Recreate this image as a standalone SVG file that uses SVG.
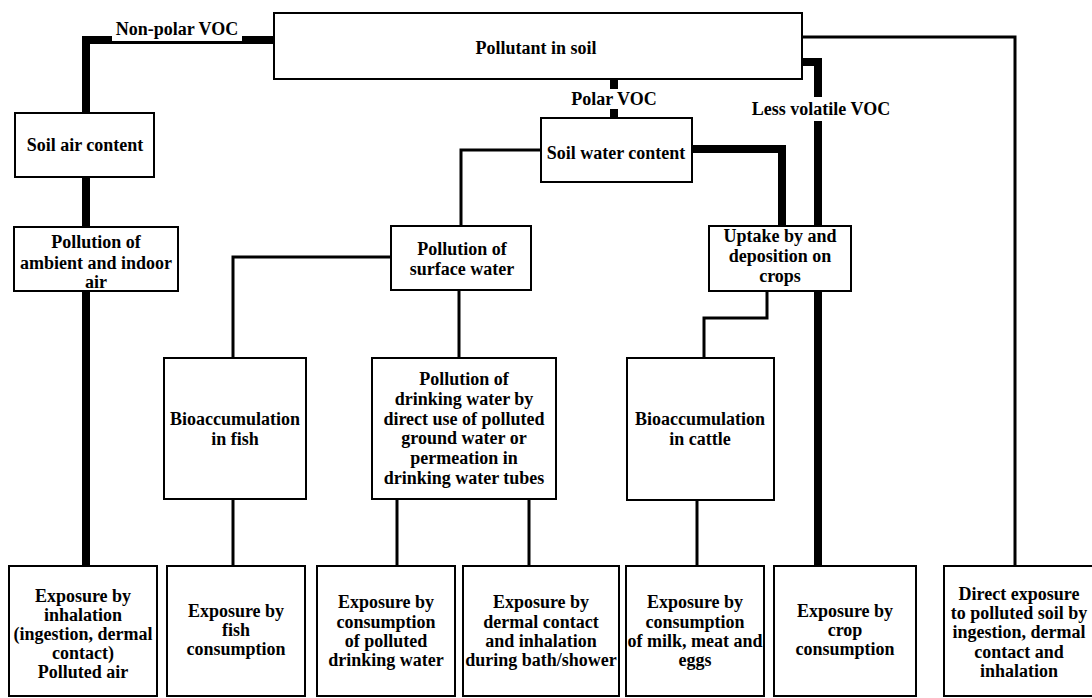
<svg xmlns="http://www.w3.org/2000/svg" width="1092" height="698" viewBox="0 0 1092 698">
<style>
  .box { fill: #ffffff; stroke: #000000; stroke-width: 2; }
  .thick { fill: none; stroke: #000000; stroke-width: 8; stroke-linejoin: miter; }
  .thin { fill: none; stroke: #000000; stroke-width: 3; stroke-linejoin: miter; }
  text { font-family: "Liberation Serif", "Times New Roman", serif; font-size: 18px; font-weight: bold; fill: #000000; text-anchor: middle; }
</style>
<rect x="0" y="0" width="1092" height="698" fill="#ffffff"/>
<g id="connectors">
  <path class="thick" d="M274,40 H86 V113"/>
  <path class="thick" d="M86,177 V227"/>
  <path class="thick" d="M86,291 V566"/>
  <rect x="112" y="22" width="130" height="19" fill="#ffffff"/>
  <path class="thick" d="M614,79 V89"/>
  <path class="thick" d="M614,109 V118"/>
  <path class="thick" d="M802,62 H818 V97"/>
  <path class="thick" d="M818,121 V566"/>
  <path class="thick" d="M692,149 H782 V226"/>
  <path class="thin" d="M802,37 H1015 V566"/>
  <path class="thin" d="M541,150 H461 V226"/>
  <path class="thin" d="M391,257 H233 V358"/>
  <path class="thin" d="M233,499 V566"/>
  <path class="thin" d="M459,290 V358"/>
  <path class="thin" d="M397,499 V566"/>
  <path class="thin" d="M529,499 V566"/>
  <path class="thin" d="M767,291 V318 H704 V358"/>
  <path class="thin" d="M697,500 V566"/>
  <text x="177" y="35">Non-polar VOC</text>
  <text x="614" y="105">Polar VOC</text>
  <text x="821" y="115">Less volatile VOC</text>
</g>
<g id="pollutant-in-soil">
  <rect class="box" x="274" y="13" width="528" height="66"/>
  <text x="536" y="54">Pollutant in soil</text>
</g>
<g id="soil-air-content">
  <rect class="box" x="15" y="113" width="139" height="64"/>
  <text x="85" y="151">Soil air content</text>
</g>
<g id="soil-water-content">
  <rect class="box" x="541" y="118" width="151" height="64"/>
  <text x="616" y="159">Soil water content</text>
</g>
<g id="pollution-air">
  <rect class="box" x="14" y="227" width="164" height="64"/>
  <text x="96" y="248">Pollution of</text>
  <text x="96" y="269">ambient and indoor</text>
  <text x="96" y="288">air</text>
</g>
<g id="pollution-surface-water">
  <rect class="box" x="391" y="226" width="140" height="64"/>
  <text x="462" y="255">Pollution of</text>
  <text x="462" y="275">surface water</text>
</g>
<g id="uptake-crops">
  <rect class="box" x="709" y="226" width="142" height="65"/>
  <text x="780" y="242">Uptake by and</text>
  <text x="780" y="262">deposition on</text>
  <text x="780" y="282">crops</text>
</g>
<g id="bioaccumulation-fish">
  <rect class="box" x="164" y="358" width="142" height="141"/>
  <text x="235" y="425">Bioaccumulation</text>
  <text x="235" y="445">in fish</text>
</g>
<g id="pollution-drinking-water">
  <rect class="box" x="372" y="358" width="184" height="141"/>
  <text x="464" y="385">Pollution of</text>
  <text x="464" y="405">drinking water by</text>
  <text x="464" y="425">direct use of polluted</text>
  <text x="464" y="444">ground water or</text>
  <text x="464" y="464">permeation in</text>
  <text x="464" y="484">drinking water tubes</text>
</g>
<g id="bioaccumulation-cattle">
  <rect class="box" x="627" y="358" width="147" height="142"/>
  <text x="700" y="425">Bioaccumulation</text>
  <text x="700" y="445">in cattle</text>
</g>
<g id="exposure-inhalation">
  <rect class="box" x="9" y="566" width="148" height="130"/>
  <text x="83" y="602">Exposure by</text>
  <text x="83" y="621">inhalation</text>
  <text x="83" y="640">(ingestion, dermal</text>
  <text x="83" y="659">contact)</text>
  <text x="83" y="678">Polluted air</text>
</g>
<g id="exposure-fish">
  <rect class="box" x="167" y="566" width="138" height="130"/>
  <text x="236" y="617">Exposure by</text>
  <text x="236" y="636">fish</text>
  <text x="236" y="655">consumption</text>
</g>
<g id="exposure-drinking-water">
  <rect class="box" x="317" y="566" width="138" height="130"/>
  <text x="386" y="608">Exposure by</text>
  <text x="386" y="628">consumption</text>
  <text x="386" y="647">of polluted</text>
  <text x="386" y="666">drinking water</text>
</g>
<g id="exposure-bath">
  <rect class="box" x="463" y="566" width="156" height="130"/>
  <text x="541" y="608">Exposure by</text>
  <text x="541" y="628">dermal contact</text>
  <text x="541" y="647">and inhalation</text>
  <text x="541" y="666">during bath/shower</text>
</g>
<g id="exposure-milk">
  <rect class="box" x="626" y="566" width="138" height="130"/>
  <text x="695" y="608">Exposure by</text>
  <text x="695" y="628">consumption</text>
  <text x="695" y="647">of milk, meat and</text>
  <text x="695" y="666">eggs</text>
</g>
<g id="exposure-crop">
  <rect class="box" x="774" y="566" width="142" height="130"/>
  <text x="845" y="617">Exposure by</text>
  <text x="845" y="636">crop</text>
  <text x="845" y="655">consumption</text>
</g>
<g id="direct-exposure">
  <rect class="box" x="944" y="566" width="160" height="130"/>
  <text x="1019" y="600">Direct exposure</text>
  <text x="1019" y="619">to polluted soil by</text>
  <text x="1019" y="638">ingestion, dermal</text>
  <text x="1019" y="658">contact and</text>
  <text x="1019" y="677">inhalation</text>
</g>
</svg>
